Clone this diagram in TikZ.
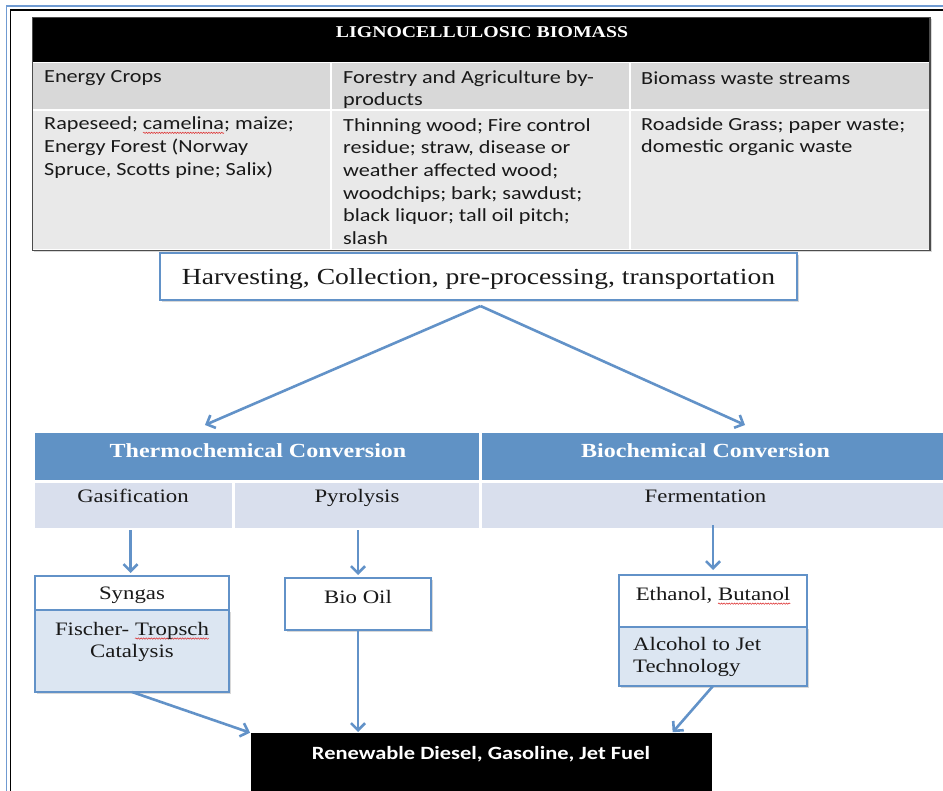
\documentclass[tikz,border=0pt]{standalone}
\usepackage{fontspec}
\setmainfont{Liberation Serif}
\newfontfamily\tabfont[FakeStretch=1.2]{Carlito}
\newfontfamily\flowfont[FakeStretch=1.2]{Liberation Serif}
\usetikzlibrary{arrows.meta,shadows,decorations.pathmorphing,calc}

\definecolor{frameblue}{RGB}{112,155,210}
\definecolor{flowblue}{RGB}{98,146,200}
\definecolor{headblue}{RGB}{96,146,197}
\definecolor{rowlav}{RGB}{217,223,237}
\definecolor{paleblue}{RGB}{220,230,242}
\definecolor{tabgrayA}{RGB}{216,216,216}
\definecolor{tabgrayB}{RGB}{233,233,233}
\definecolor{spellred}{RGB}{220,40,40}
\definecolor{inktext}{RGB}{25,25,25}

% red wavy spell-check underline below a word
\newlength\spellw
\newcommand\spellchk[1]{\setbox0=\hbox{#1}\setlength\spellw{\wd0}%
  \rlap{\tikz[overlay,baseline=0pt]\draw[spellred,line width=0.5pt,decorate,
    decoration={snake,amplitude=0.7pt,segment length=2.6pt}]
    (0pt,-3pt) -- (\spellw,-3pt);}\usebox0}

\begin{document}
\begin{tikzpicture}[x=1pt,y=-1pt,
  cell/.style={rectangle,anchor=north west,inner sep=0pt,outer sep=0pt},
  tabtxt/.style={inner sep=0pt,align=left,text=inktext,
    font={\tabfont\fontsize{18.5}{22.6}\selectfont}},
  flowtxt/.style={inner sep=0pt,align=center,text=inktext,
    font={\flowfont\fontsize{19}{22}\selectfont}},
  headtxt/.style={inner sep=0pt,text=white,
    font={\flowfont\bfseries\fontsize{20}{22}\selectfont}},
  flowbox/.style={cell,draw=flowblue,line width=1.8pt},
  softshadow/.style={drop shadow={shadow xshift=2pt,shadow yshift=-2pt,opacity=0.3}},
  flow/.style={draw=flowblue,line width=2.6pt,
    -{Straight Barb[length=7pt,width=14pt,line width=2.6pt]}},
]
\useasboundingbox (0,0) rectangle (943,791);
\fill[white] (0,0) rectangle (943,791);

% page frame
\draw[frameblue,line width=1.6pt] (6.5,791) -- (6.5,6) -- (943,6);
\draw[black,line width=1.1pt] (10.5,791) -- (10.5,10) -- (943,10);

% ---------------- feedstock table ----------------
\filldraw[fill=white,draw=black!70,line width=1.4pt,softshadow] (32.3,17.3) rectangle (930,250.5);
\node[cell,fill=black,minimum width=896,minimum height=44] (title) at (33,18) {};
\node[cell,fill=tabgrayA,minimum width=297,minimum height=46] (hEC) at (33,63) {};
\node[cell,fill=tabgrayA,minimum width=297,minimum height=46] (hFA) at (332,63) {};
\node[cell,fill=tabgrayA,minimum width=298,minimum height=46] (hBW) at (631,63) {};
\node[cell,fill=tabgrayB,minimum width=297,minimum height=138] (cEC) at (33,111) {};
\node[cell,fill=tabgrayB,minimum width=297,minimum height=138] (cFA) at (332,111) {};
\node[cell,fill=tabgrayB,minimum width=298,minimum height=138] (cBW) at (631,111) {};

\node[headtxt,font={\flowfont\bfseries\fontsize{16.5}{20}\selectfont}] (titletxt)
  at ($(title.north)+(1,14)$) {LIGNOCELLULOSIC BIOMASS};

\node[tabtxt,anchor=west] (tEC) at ($(hEC.north west)+(11,15)$) {Energy Crops};
\node[tabtxt,anchor=west] (tFA) at ($(hFA.north west)+(11,26.5)$)
  {Forestry and Agriculture by-\\products};
\node[tabtxt,anchor=west] (tBW) at ($(hBW.north west)+(10,15)$) {Biomass waste streams};

\node[tabtxt,anchor=west] (xEC) at ($(cEC.north west)+(11,36.5)$)
  {Rapeseed; \spellchk{camelina}; maize;\\Energy Forest (Norway\\Spruce, Scotts pine; Salix)};
\node[tabtxt,anchor=west] (xFA) at ($(cFA.north west)+(11,70.5)$)
  {Thinning wood; Fire control\\residue; straw, disease or\\weather affected wood;\\woodchips; bark; sawdust;\\black liquor; tall oil pitch;\\slash};
\node[tabtxt,anchor=west] (xBW) at ($(cBW.north west)+(10,25.5)$)
  {Roadside Grass; paper waste;\\domestic organic waste};

% ---------------- pre-processing ----------------
\node[flowbox,anchor=center,fill=white,softshadow,minimum width=637,minimum height=47] (harv)
  at (478.5,276.5) {};
\node[flowtxt,font={\flowfont\fontsize{23}{26}\selectfont}] (harvtxt)
  at ($(harv.center)+(0,2.5)$) {Harvesting, Collection, pre-processing, transportation};

% ---------------- conversion table ----------------
\node[cell,fill=headblue,minimum width=444,minimum height=47] (thermo) at (35,433) {};
\node[cell,fill=headblue,minimum width=461,minimum height=47] (bio) at (482,433) {};
\node[cell,fill=rowlav,minimum width=197,minimum height=45] (gasif) at (35,483) {};
\node[cell,fill=rowlav,minimum width=244,minimum height=45] (pyro) at (235,483) {};
\node[cell,fill=rowlav,minimum width=461,minimum height=45] (ferm) at (482,483) {};

\node[headtxt] at ($(thermo.north)+(1,17.5)$) {Thermochemical Conversion};
\node[headtxt] at ($(bio.north)+(-7,17.5)$) {Biochemical Conversion};
\node[flowtxt,anchor=base] at ($(gasif.north)+(-0.5,19.5)$) {Gasification};
\node[flowtxt,anchor=base] at ($(pyro.north)+(0,19.5)$) {Pyrolysis};
\node[flowtxt,anchor=base] at ($(ferm.north)+(-7,19.5)$) {Fermentation};

% ---------------- products ----------------
\node[flowbox,fill=paleblue,softshadow,minimum width=194,minimum height=82] (ft) at (35,610) {};
\node[flowbox,fill=white,minimum width=194,minimum height=34] (syngas) at (35,576) {};
\node[flowtxt] at ($(syngas.center)+(0,2)$) {Syngas};
\node[flowtxt] at ($(ft.north)+(0,32)$) {Fischer- \spellchk{Tropsch}\\Catalysis};

\node[flowbox,fill=white,softshadow,minimum width=146,minimum height=52] (biooil) at (285,578) {};
\node[flowtxt] at ($(biooil.north)+(0,19)$) {Bio Oil};

\node[flowbox,fill=paleblue,softshadow,minimum width=188,minimum height=59] (atj) at (619,627) {};
\node[flowbox,fill=white,minimum width=188,minimum height=52] (ethanol) at (619,575) {};
\node[flowtxt] at ($(ethanol.north)+(0,20.5)$) {Ethanol, \spellchk{Butanol}};
\node[flowtxt,align=left,anchor=west] at ($(atj.north west)+(14,30)$) {Alcohol to Jet\\Technology};

\node[cell,fill=black,minimum width=461,minimum height=58] (fuel) at (251,733) {};
\node[text=white,inner sep=0pt,font={\tabfont\bfseries\fontsize{18.7}{20}\selectfont}]
  at ($(fuel.north)+(-0.5,21)$) {Renewable Diesel, Gasoline, Jet Fuel};

% ---------------- connectors ----------------
\coordinate (thermoIn) at (205,425);
\coordinate (bioIn) at (745,425);
\draw[flow] ($(harv.south)+(2,6)$) -- (thermoIn);
\draw[flow] ($(harv.south)+(2,6)$) -- (bioIn);

\draw[flow,shorten <=2pt,shorten >=3pt] ([xshift=-3pt]gasif.south) -- ([xshift=-3pt]gasif.south |- syngas.north);
\draw[flow,shorten <=2pt,shorten >=3pt] (pyro.south -| biooil.north) -- (biooil.north);
\draw[flow,shorten <=-3pt,shorten >=5pt] (ferm.south -| ethanol.north) -- (ethanol.north);

\draw[flow,shorten >=1pt] (ft.south) -- (fuel.north west);
\draw[flow,shorten >=1pt] (biooil.south) -- (biooil.south |- fuel.north);
\draw[flow,shorten >=1pt] (atj.south) -- ($(fuel.north east)+(-40,0)$);
\end{tikzpicture}
\end{document}
